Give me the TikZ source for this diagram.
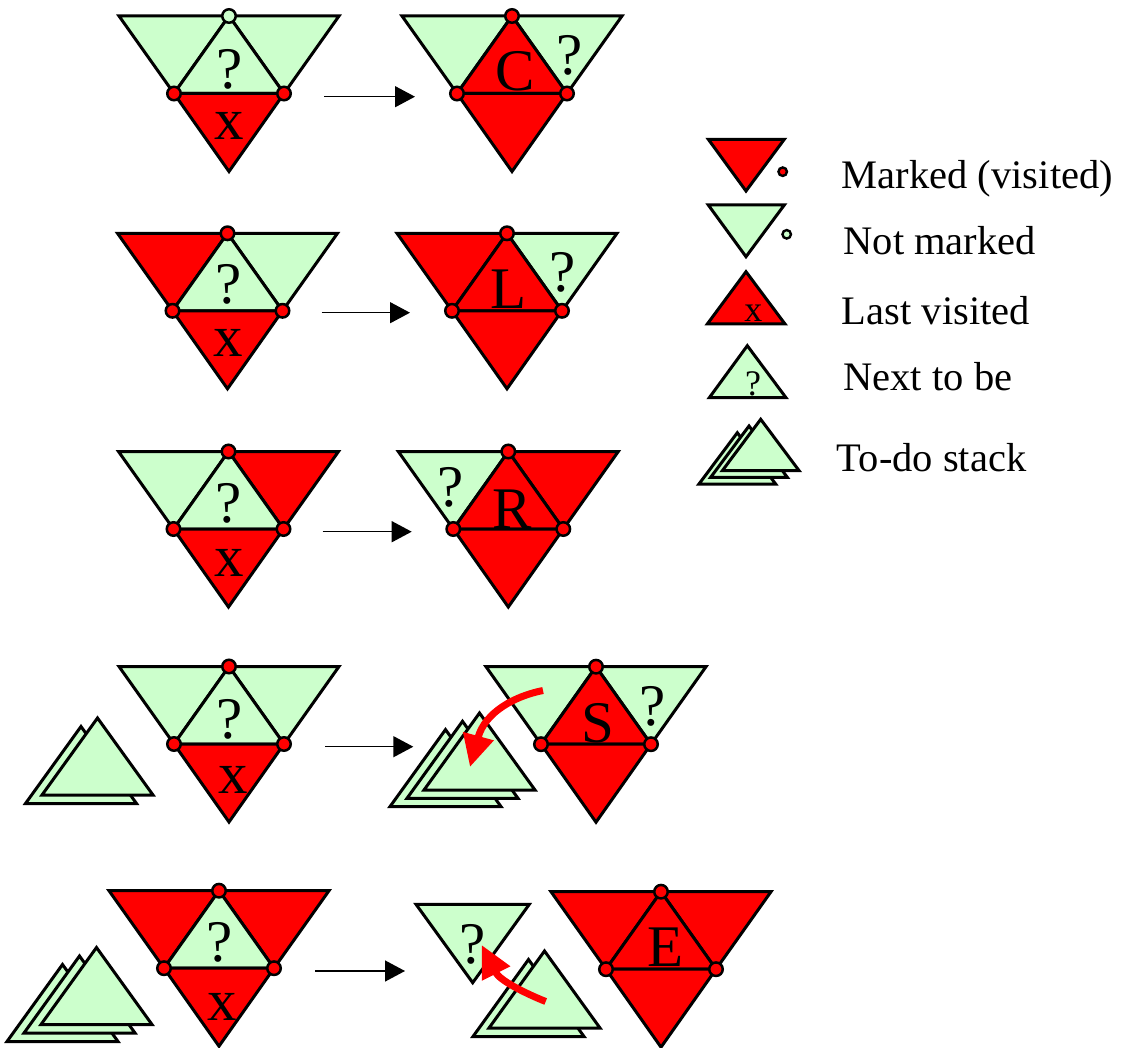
\documentclass[tikz,border=0pt]{standalone}
\usepackage{fontspec}
\setmainfont{Liberation Serif}
\usetikzlibrary{arrows.meta}

\definecolor{mark}{RGB}{255,0,0}
\definecolor{todo}{RGB}{204,255,204}

\tikzset{
  face/.style={draw=black, line width=3pt, line join=miter},
  vertex/.style={circle, draw=black, line width=2.5pt, minimum size=13.5pt, inner sep=0pt},
  smallvertex/.style={circle, draw=black, line width=2.4pt, minimum size=8.5pt, inner sep=0pt},
  letter/.style={font=\fontsize{59}{59}\selectfont, inner sep=0pt, anchor=base, text depth=0pt},
  smallletter/.style={font=\fontsize{36}{36}\selectfont, inner sep=0pt, anchor=base, text depth=0pt},
  legendtext/.style={font=\fontsize{40.5}{40.5}\selectfont, inner sep=0pt, anchor=base west},
  move/.style={line width=1.4pt, -{Triangle[length=20pt,width=21pt]}},
  pushpop/.style={draw=mark, line width=7pt, -{Triangle[length=32pt,width=30pt,fill=mark]}},
}

% Four triangles around a central upward one:
% #1 name, #2 centre x, #3 top y, #4 left, #5 right, #6 centre, #7 bottom fills, #8 top vertex fill
\newcommand\tetra[8]{%
  \begin{scope}[shift={(#2,#3)}]
    \coordinate (#1-t)  at (0,0);
    \coordinate (#1-tl) at (-110,0);
    \coordinate (#1-tr) at (110,0);
    \coordinate (#1-l)  at (-55,77.5);
    \coordinate (#1-r)  at (55,77.5);
    \coordinate (#1-b)  at (0,155.5);
    \filldraw[face, fill=#4] (#1-tl) -- (#1-t) -- (#1-l) -- cycle;
    \filldraw[face, fill=#5] (#1-t) -- (#1-tr) -- (#1-r) -- cycle;
    \filldraw[face, fill=#6] (#1-t) -- (#1-r) -- (#1-l) -- cycle;
    \filldraw[face, fill=#7] (#1-l) -- (#1-r) -- (#1-b) -- cycle;
    \node[vertex, fill=#8] (#1-vt) at (#1-t) {};
    \node[vertex, fill=mark] (#1-vl) at (#1-l) {};
    \node[vertex, fill=mark] (#1-vr) at (#1-r) {};
  \end{scope}}

% One to-do triangle, given by its apex
\newcommand\todotri[2]{%
  \filldraw[face, fill=todo] (#1,#2) -- ++(55.5,77) -- ++(-111,0) -- cycle;}

\begin{document}
\begin{tikzpicture}[x=1pt, y=-1pt]
\useasboundingbox (0,0) rectangle (1121,1048);

% ---------- Row 1: continue ----------
\tetra{a}{229}{16}{todo}{todo}{todo}{mark}{todo}
\node[letter] (a-q) at (229.3,88.3) {?};
\node[letter] (a-x) at (229.7,140) {x};
\tetra{A}{512}{16}{todo}{todo}{mark}{mark}{mark}
\node[letter] (A-c) at (515,91) {C};
\node[letter] (A-q) at (570,75) {?};
\coordinate (a-out) at (324,96.7);
\coordinate (A-in) at (415,96.7);
\draw[move] (a-out) -- (A-in);

% ---------- Row 2: left ----------
\tetra{b}{227.5}{233.3}{mark}{todo}{todo}{mark}{mark}
\node[letter] (b-q) at (228.3,303.3) {?};
\node[letter] (b-x) at (228.3,356.7) {x};
\tetra{B}{507}{233.3}{mark}{todo}{mark}{mark}{mark}
\node[letter] (B-c) at (509,309) {L};
\node[letter] (B-q) at (563,291.7) {?};
\coordinate (b-out) at (321.7,312.7);
\coordinate (B-in) at (410,312.7);
\draw[move] (b-out) -- (B-in);

% ---------- Row 3: right ----------
\tetra{c}{228.5}{451.5}{todo}{mark}{todo}{mark}{mark}
\node[letter] (c-q) at (229,522.7) {?};
\node[letter] (c-x) at (229,576.7) {x};
\tetra{C}{508.3}{451.5}{todo}{mark}{mark}{mark}{mark}
\node[letter] (C-c) at (511.7,528) {R};
\node[letter] (C-q) at (451,506.7) {?};
\coordinate (c-out) at (322.7,531.7);
\coordinate (C-in) at (411.7,531.7);
\draw[move] (c-out) -- (C-in);

% ---------- Row 4: split, push onto the stack ----------
\todotri{81}{726.5}
\todotri{97.5}{718}
\tetra{d}{229}{666.5}{todo}{todo}{todo}{mark}{mark}
\node[letter] (d-q) at (230,738) {?};
\node[letter] (d-x) at (233.3,793.3) {x};
\todotri{445.5}{729.6}
\todotri{462.5}{721.3}
\todotri{479.5}{713}
\tetra{D}{596}{666.7}{todo}{todo}{mark}{mark}{mark}
\node[letter] (D-c) at (598.3,742) {S};
\node[letter] (D-q) at (653,725) {?};
\coordinate (d-out) at (325,746.7);
\coordinate (D-in) at (413.3,746.7);
\draw[move] (d-out) -- (D-in);
\coordinate (push-from) at (543,690.5);
\coordinate (push-to) at (470,767);
\draw[pushpop] (push-from) .. controls (515,696) and (485,712) .. (push-to);

% ---------- Row 5: end, pop from the stack ----------
\todotri{62.5}{964.5}
\todotri{79.5}{956}
\todotri{96.5}{947.5}
\tetra{e}{219}{890.7}{mark}{mark}{todo}{mark}{mark}
\node[letter] (e-q) at (220,961.7) {?};
\node[letter] (e-x) at (222.7,1020) {x};
\filldraw[face, fill=todo] (416,904.3) -- (529.3,904.3) -- (472.7,982.7) -- cycle;
\node[letter] (pop-q) at (472.7,963.3) {?};
\todotri{528.5}{959.5}
\todotri{544.5}{951}
\tetra{E}{661}{891.7}{mark}{mark}{mark}{mark}{mark}
\node[letter] (E-c) at (666,966.7) {E};
\coordinate (e-out) at (315,971);
\coordinate (E-in) at (405,971);
\draw[move] (e-out) -- (E-in);
\coordinate (pop-from) at (545.7,1001.5);
\coordinate (pop-to) at (481.7,945);
\draw[pushpop] (pop-from) .. controls (525.7,993.5) and (499.7,980.6) .. (pop-to);

% ---------- Legend ----------
\filldraw[face, fill=mark] (708.3,139.3) -- (784.3,139.3) -- (746,191) -- cycle;
\node[smallvertex, fill=mark] (lg-dm) at (782.7,171.7) {};
\node[legendtext] (lg-m) at (841.7,188.3) {Marked (visited)};

\filldraw[face, fill=todo] (708.3,205) -- (784.3,205) -- (746,256.7) -- cycle;
\node[smallvertex, fill=todo] (lg-dn) at (786.7,234.3) {};
\node[legendtext] (lg-n) at (843.3,255) {Not marked};

\filldraw[face, fill=mark] (746,271.7) -- (785,324) -- (707.3,324) -- cycle;
\node[smallletter] (lg-x) at (753.3,321.7) {x};
\node[legendtext] (lg-l) at (841.7,324) {Last visited};

\filldraw[face, fill=todo] (747.3,345.7) -- (786,397.7) -- (709.3,397.7) -- cycle;
\node[smallletter] (lg-q) at (753,395) {?};
\node[legendtext] (lg-t) at (843.3,390) {Next to be};

\foreach \dx/\dy in {-23.4/13.4, -11.7/6.7, 0/0}
  \filldraw[face, fill=todo] (760.7+\dx,419.3+\dy) -- ++(38.4,51.4) -- ++(-76.8,0) -- cycle;
\node[legendtext] (lg-s) at (836.7,471.7) {To-do stack};
\end{tikzpicture}
\end{document}
